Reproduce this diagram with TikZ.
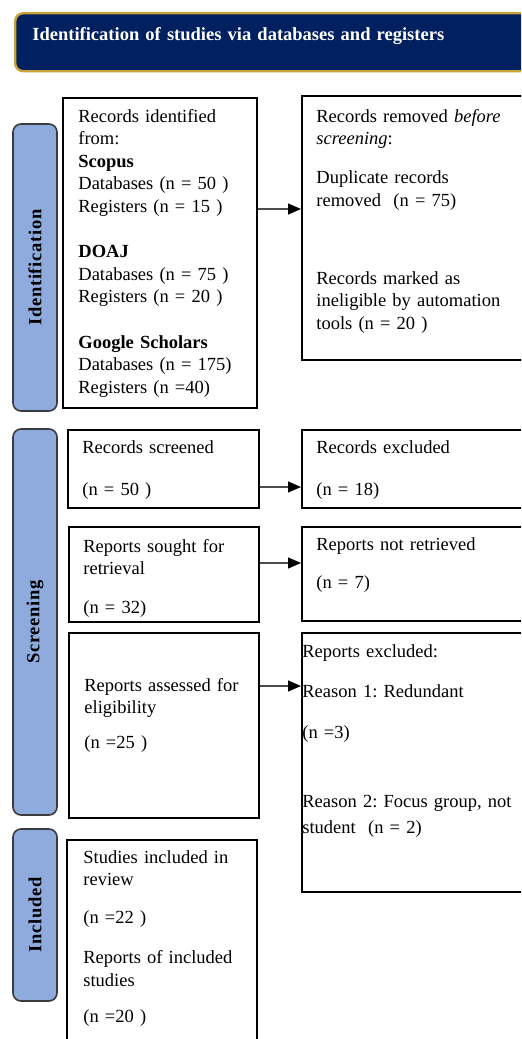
\documentclass[tikz,border=0pt]{standalone}
\usepackage{fontspec}
\setmainfont{Liberation Serif}
\usetikzlibrary{arrows.meta}
\definecolor{hdrnavy}{HTML}{002060}
\definecolor{hdrgold}{HTML}{C9A23A}
\definecolor{sideblue}{HTML}{8FAADC}
\definecolor{sideedge}{HTML}{3B3B3B}
\frenchspacing

\begin{document}
\begin{tikzpicture}[x=0.5pt,y=-0.5pt,
  font=\fontsize{9.25}{11.3}\selectfont,
  box/.style={draw,line width=1pt,inner sep=0pt,anchor=north west},
  txt/.style={anchor=base west,inner sep=0pt,text width=125pt,align=left},
  side/.style={draw=sideedge,fill=sideblue,line width=0.8pt,rounded corners=4pt,rotate=90,
    minimum height=22pt,inner sep=0pt,
    font=\fontsize{9.25}{11.3}\selectfont\bfseries\addfontfeature{LetterSpace=4}},
  arr/.style={draw=black!70,line width=0.6pt,-{Triangle[length=6.5pt,width=5.5pt,color=black]}}]
  \useasboundingbox (0,0) rectangle (521,1039);
  \clip (0,0) rectangle (521,1039);
  % cabecera
  \node[box,draw=hdrgold,fill=hdrnavy,line width=1.2pt,rounded corners=4pt,
    minimum width=265pt,minimum height=29pt] (hdr) at (14,12) {};
  \node[txt,text width=250pt,text=white,font=\fontsize{9.25}{11.3}\selectfont\bfseries] (hdrtxt) at (32,40)
    {Identification of studies via databases and registers};
  % etiquetas laterales
  \node[side,minimum width=143.5pt] (lid) at (35,267.5) {Identification};
  \node[side,minimum width=193pt] (lscr) at (35,622) {Screening};
  \node[side,minimum width=86pt] (linc) at (35,915) {Included};
  % identificacion
  \node[box,minimum width=97pt,minimum height=155pt] (ident) at (62,97) {};
  \node[box,minimum width=122pt,minimum height=132pt] (removed) at (301,95) {};
  \node[txt] (identtxt) at (78,122) {Records identified\\from:\\\textbf{Scopus}\\
    Databases (n = 50 )\\Registers (n = 15 )\\[11.3pt]\textbf{DOAJ}\\
    Databases (n = 75 )\\Registers (n = 20 )\\[11.3pt]\textbf{Google Scholars}\\
    Databases (n = 175)\\Registers (n =40)};
  \node[txt] (removedtxt) at (316,122) {Records removed \emph{before}\\\emph{screening}:\\[8.2pt]
    Duplicate records\\removed~ (n = 75)\\[27.7pt]
    Records marked as\\ineligible by automation\\tools (n = 20 )};
  % cribado
  \node[box,minimum width=95.5pt,minimum height=39pt] (scr) at (67,429) {};
  \node[box,minimum width=122pt,minimum height=39pt] (excl) at (301,429) {};
  \node[box,minimum width=95pt,minimum height=47.5pt] (sought) at (68,526) {};
  \node[box,minimum width=122pt,minimum height=47pt] (notret) at (301,526) {};
  \node[box,minimum width=95pt,minimum height=92.5pt] (assess) at (68,632) {};
  \node[box,minimum width=122pt,minimum height=129.5pt] (rexcl) at (301,632) {};
  \node[txt] (scrtxt) at (82,453) {Records screened\\[9.7pt](n = 50 )};
  \node[txt] (excltxt) at (316,453) {Records excluded\\[9.7pt](n = 18)};
  \begin{scope}
    \clip (sought.north west) rectangle ([yshift=1pt]sought.south east);
    \node[txt] (soughttxt) at (83,552) {Reports sought for\\retrieval\\[8.2pt](n = 32)};
  \end{scope}
  \node[txt] (notrettxt) at (316,550) {Reports not retrieved\\[7.7pt](n = 7)};
  \node[txt] (assesstxt) at (84,691) {Reports assessed for\\eligibility\\[6.2pt](n =25 )};
  \node[txt] (rexcltxt) at (302,657) {Reports excluded:\\[8.7pt]Reason 1: Redundant\\[9.2pt]
    (n =3)\\[23.2pt]Reason 2: Focus group, not\\[1.7pt]student~ (n = 2)};
  % incluidos
  \node[box,minimum width=95pt,minimum height=110pt] (incl) at (66,839) {};
  \node[txt] (incltxt) at (83,863) {Studies included in\\review\\[7.7pt](n =22 )\\[8.7pt]
    Reports of included\\studies\\[6.7pt](n =20 )};
  % flechas
  \coordinate (a1) at (0,209);
  \coordinate (a2) at (0,487);
  \coordinate (a3) at (0,563);
  \coordinate (a4) at (0,686);
  \draw[arr] (ident.east |- a1) -- (removed.west |- a1);
  \draw[arr] (scr.east |- a2) -- (excl.west |- a2);
  \draw[arr] (sought.east |- a3) -- (notret.west |- a3);
  \draw[arr] (assess.east |- a4) -- (rexcl.west |- a4);
\end{tikzpicture}
\end{document}
